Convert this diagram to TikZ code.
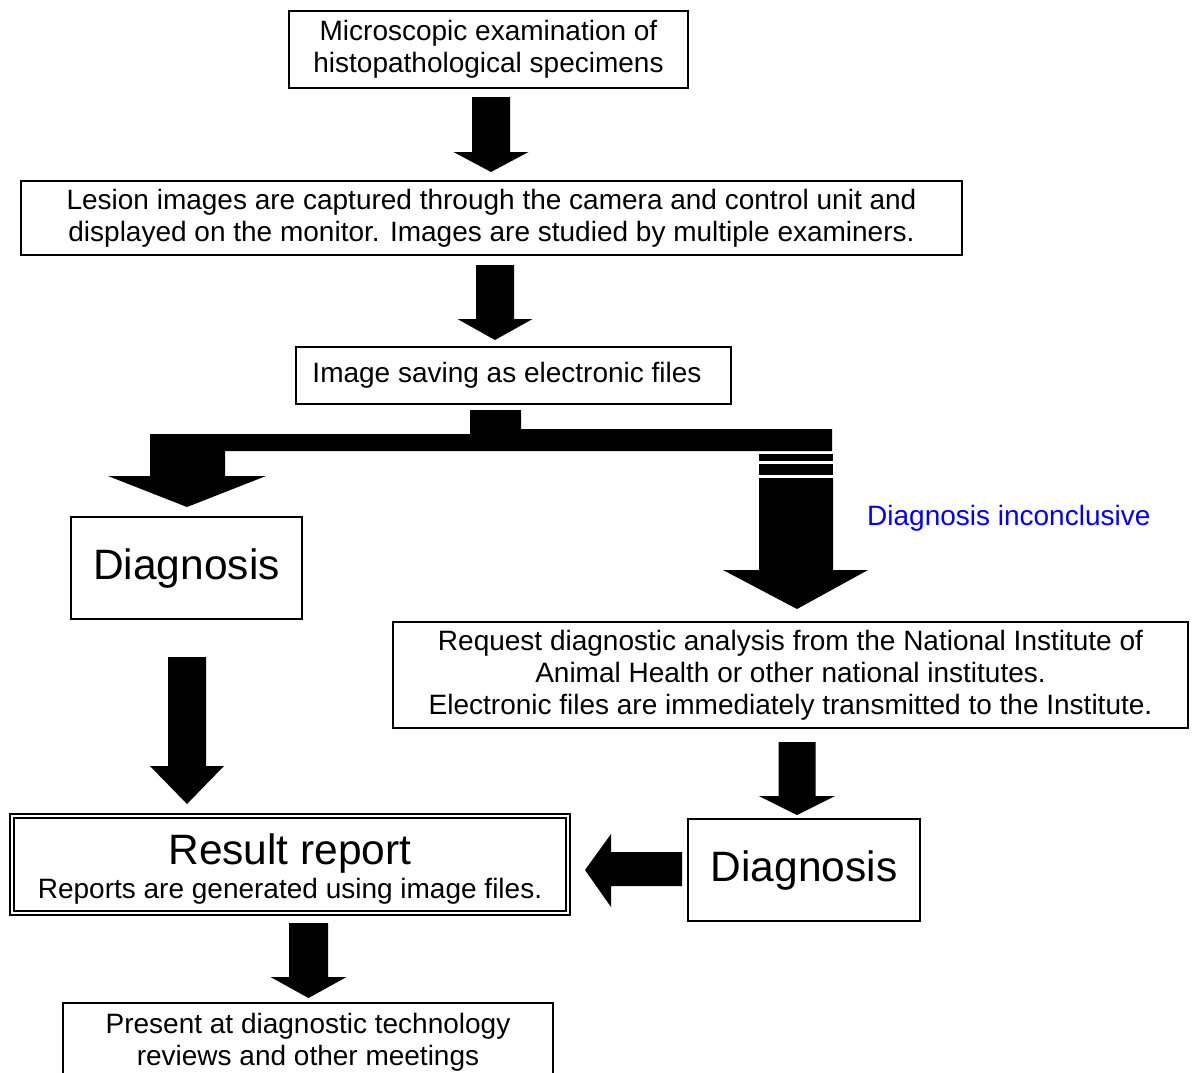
\documentclass[tikz,border=0pt]{standalone}
\usepackage{fontspec}
\setmainfont{Liberation Sans}
\newcommand\vblock[6]{\fill ({#1-#5},#2) -- ({#1+#5},#2) -- ({#1+#5},#3) -- ({#1+#6},#3) -- (#1,#4) -- ({#1-#6},#3) -- ({#1-#5},#3) -- cycle;}
\begin{document}
\begin{tikzpicture}[x=1pt,y=-1pt,
  box/.style={draw, line width=1.6pt, inner sep=0pt, align=center, font=\fontsize{28}{32}\selectfont},
  bigtxt/.style={font=\fontsize{42.5}{46}\selectfont},
  smalltxt/.style={font=\fontsize{28}{32}\selectfont, inner sep=0pt}]
\useasboundingbox (0,0) rectangle (1196,1072);
\fill[white] (0,0) rectangle (1196,1072);

\node[box, minimum width=399pt, minimum height=77pt] (micro) at (488.5,49.5)
  {Microscopic examination of\\histopathological specimens};
\node[box, minimum width=941pt, minimum height=74pt] (lesion) at (491.5,218)
  {Lesion images are captured through the camera and control unit and\\displayed on the monitor. Images are studied by multiple examiners.};
\node[box, minimum width=435pt, minimum height=57pt] (save) at (513.5,375.5)
  {Image saving as electronic files\hspace*{13pt}};
\node[box, bigtxt, minimum width=231pt, minimum height=102pt] (diag1) at (186.5,568) {Diagnosis};
\node[smalltxt, text=blue, anchor=west] (inconc) at (867,518) {Diagnosis inconclusive};
\node[box, minimum width=795pt, minimum height=106pt] (request) at (790.5,675)
  {Request diagnostic analysis from the National Institute of\\Animal Health or other national institutes.\\Electronic files are immediately transmitted to the Institute.};
\node[box, bigtxt, minimum width=232pt, minimum height=102pt] (diag2) at (804,870) {Diagnosis};
\node[draw, double, line width=1.4pt, double distance=2.6pt, minimum width=556pt, minimum height=97pt, inner sep=0pt] (result) at (290,864.5) {};
\node[bigtxt, inner sep=0pt, anchor=base] (resulttitle) at (290,864) {Result report};
\node[smalltxt, anchor=base] (resultsub) at (290,898) {Reports are generated using image files.};
\node[box, minimum width=490pt, minimum height=78pt] (present) at (308,1042)
  {Present at diagnostic technology\\reviews and other meetings};

% block arrows
\vblock{491}{97}{152}{172}{19}{37.5}
\vblock{495}{265}{319}{340}{19}{37.5}
\vblock{187}{657}{766}{804}{19}{37}
\vblock{797}{742}{796}{815}{18.5}{38}
\vblock{308.5}{923}{977}{998}{19.5}{38}

% branching arrow
\fill (470,410) -- (521,410) -- (521,429) -- (832,429) -- (832,451) -- (225,451) -- (225,476)
  -- (266,476) -- (187,507) -- (108,476) -- (150,476) -- (150,434) -- (470,434) -- cycle;
\fill (759,454) rectangle (833,461);
\fill (759,464) rectangle (833,475);
\fill (759,478) -- (833,478) -- (833,570) -- (868,570) -- (797,609) -- (723,570) -- (759,570) -- cycle;

% horizontal arrow
\fill (682,852) -- (611,852) -- (611,834) -- (585,870) -- (611,907) -- (611,886) -- (682,886) -- cycle;
\end{tikzpicture}
\end{document}
